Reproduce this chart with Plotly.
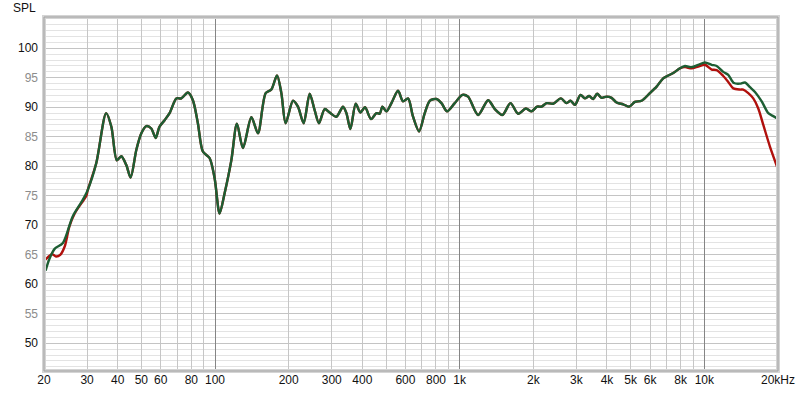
import plotly.graph_objects as go

# ---------------- data ----------------
green_freq = [20.3, 21.0, 22.1, 23.9, 26.2, 28.8, 30.2, 32.7, 35.9, 37.7, 39.7, 41.4, 43.4, 45.2,
              47.7, 50.0, 52.4, 54.9, 57.2, 59.3, 62.2, 65.2, 69.5, 72.8, 77.5, 81.2, 85.1, 89.2,
              95.0, 99.6, 104.4, 109.4, 116.6, 122.9, 130.1, 140.8, 149.8, 161.1, 169.9, 179.2,
              186.7, 194.4, 208.3, 218.3, 230.3, 243.7, 255.4, 266.0, 280.7, 294.2, 313.3, 333.5,
              344.4, 357.6, 375.9, 392.9, 410.3, 434.1, 456.8, 471.2, 483.3, 501.8, 526.1, 559.8,
              586.8, 615.0, 644.7, 682.2, 719.9, 754.6, 803.7, 842.4, 888.1, 954.6, 1026, 1082,
              1189, 1307, 1392, 1496, 1613, 1733, 1864, 1966, 2073, 2161, 2265, 2410, 2592, 2735,
              2839, 2957, 3119, 3248, 3383, 3513, 3647, 3801, 3985, 4177, 4379, 4658, 4929, 5201,
              5540, 5992, 6381, 6790, 7462, 7947, 8330, 8872, 9441, 10055, 10710, 11227, 11947,
              12522, 13214, 13983, 14656, 15364, 16104, 17156, 18252, 19132, 20000]
green_spl = [62.3, 64.2, 66.0, 67.0, 71.5, 74.3, 76.0, 80.5, 89.0, 86.7, 81.0, 81.7, 80.2, 78.1,
             82.8, 85.6, 86.8, 86.4, 84.8, 86.7, 87.8, 89.0, 91.5, 91.5, 92.5, 91.2, 87.3, 82.5,
             81.4, 78.0, 72.0, 75.4, 81.0, 87.2, 83.1, 88.3, 85.6, 92.4, 93.0, 95.4,
             92.4, 87.3, 91.1, 90.1, 87.3, 92.3, 89.5, 87.3, 89.7, 89.1, 88.4, 90.1,
             89.0, 86.3, 90.6, 89.1, 90.0, 88.0, 89.0, 88.9, 90.1, 89.3, 90.7, 92.8,
             91.0, 91.5, 88.4, 85.9, 89.0, 91.1, 91.4, 90.7, 89.3, 90.7, 92.1, 91.8,
             88.7, 91.2, 89.7, 88.7, 90.7, 88.9, 89.8, 89.3, 90.1, 90.1, 90.7, 90.6, 91.5, 90.7,
             91.1, 90.4, 92.1, 91.5, 91.9, 91.4, 92.3, 91.6, 91.8, 91.6, 90.8, 90.5, 90.1, 90.9,
             91.1, 92.4, 93.5, 94.9, 95.8, 96.6, 97.0, 96.8, 97.2, 97.6, 97.2, 97.0, 96.0,
             95.5, 94.1, 94.0, 94.2, 93.4, 92.6, 91.0, 89.0, 88.5, 88.0]

red_low_freq = [20.3, 21.6, 22.4, 23.3, 24.3, 25.4, 26.7, 28.4, 29.8]
red_low_spl = [64.2, 65.1, 64.7, 65.0, 66.4, 69.8, 72.0, 73.7, 75.0]
red_high_freq = [8330, 8872, 9441, 10055, 10710, 11227, 11947, 12522, 13128, 13983, 14422,
                 15122, 15849, 16613, 17418, 18552, 20000]
red_high_spl = [96.8, 96.6, 96.9, 97.2, 96.4, 96.3, 95.3, 94.3, 93.2, 93.0, 93.0,
                92.4, 91.5, 89.8, 87.0, 83.3, 79.5]

# red curve = own low end + shared middle + own high end
mid = [(f, s) for f, s in zip(green_freq, green_spl) if 30 <= f < 8330]
red_freq = red_low_freq + [m[0] for m in mid] + red_high_freq
red_spl = red_low_spl + [m[1] for m in mid] + red_high_spl

x_grid = [20, 30, 40, 50, 60, 70, 80, 90, 100, 200, 300, 400, 500, 600, 700, 800, 900,
          1000, 2000, 3000, 4000, 5000, 6000, 7000, 8000, 9000, 10000, 20000]
x_labels = ["20", "30", "40", "50", "60", "", "80", "", "100", "200", "300", "400", "", "600",
            "", "800", "", "1k", "2k", "3k", "4k", "5k", "6k", "", "8k", "", "10k", "20kHz"]
x_major = [100, 1000, 10000]
y_ticks = [50, 55, 60, 65, 70, 75, 80, 85, 90, 95, 100]

GREEN = "#1d5e33"
RED = "#b0100c"

y_text = []
for v in y_ticks:
    col = "#111111" if v % 10 == 0 else "#8c8c8c"
    y_text.append(f'<span style="color:{col}">{v}</span>')

fig = go.Figure()
fig.add_trace(go.Scatter(x=red_freq, y=red_spl, mode="lines", xaxis="x", yaxis="y",
                         line=dict(color=RED, width=2.4, shape="spline", smoothing=0.8),
                         hoverinfo="skip", showlegend=False))
fig.add_trace(go.Scatter(x=green_freq, y=green_spl, mode="lines", xaxis="x2", yaxis="y",
                         line=dict(color=GREEN, width=2.4, shape="spline", smoothing=0.8),
                         hoverinfo="skip", showlegend=False))

xr = [1.30103, 4.30103]
fig.update_layout(
    width=800, height=396,
    margin=dict(l=44, r=22, t=17, b=25, autoexpand=False),
    paper_bgcolor="white", plot_bgcolor="white",
    font=dict(family="Liberation Sans, Arial, sans-serif", size=12, color="#111111"),
    xaxis=dict(type="log", range=xr, tickmode="array", tickvals=x_grid, ticktext=x_labels,
               showgrid=True, gridcolor="#c6c6c6", gridwidth=1, zeroline=False, automargin=False,
               ticks="", showline=False, tickfont=dict(size=12, color="#111111")),
    xaxis2=dict(type="log", range=xr, overlaying="x", anchor="y", side="bottom", automargin=False,
                tickmode="array", tickvals=x_major, showticklabels=False,
                showgrid=True, gridcolor="#858585", gridwidth=1, zeroline=False, ticks=""),
    yaxis=dict(range=[45.3, 105.3], tickmode="array", tickvals=y_ticks, ticktext=y_text,
               showgrid=True, gridcolor="#c4c4c4", gridwidth=1, zeroline=False, ticks="",
               automargin=False, ticklabelstandoff=5, tickfont=dict(size=12),
               minor=dict(dtick=1, tick0=0, showgrid=True, gridcolor="#e3e3e3", gridwidth=1)),
    shapes=[
        dict(type="rect", xref="paper", yref="paper", x0=0, x1=1, y0=0, y1=1,
             line=dict(color="#d4d4d4", width=4), layer="above"),
        dict(type="rect", xref="paper", yref="paper", x0=0, x1=1, y0=0, y1=1,
             line=dict(color="#a0a0a0", width=1), layer="above"),
    ],
    annotations=[dict(text="SPL", xref="paper", yref="paper", x=0, y=1, xanchor="right",
                      yanchor="middle", xshift=-6, yshift=9, showarrow=False,
                      font=dict(size=12, color="#111111"))],
)

fig.write_html("out.html")
